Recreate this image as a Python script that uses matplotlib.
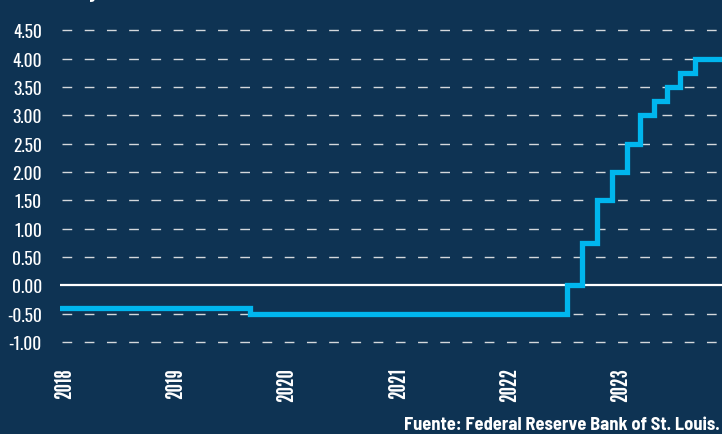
import matplotlib
matplotlib.use("Agg")
import matplotlib.pyplot as plt
import matplotlib.dates as mdates
import matplotlib.transforms as mtransforms
import numpy as np

# ---- data (ECB deposit facility rate, %) ----
change_dates = ["2018-01-01", "2019-09-18", "2022-07-27", "2022-09-14", "2022-11-02",
                "2022-12-21", "2023-02-08", "2023-03-22", "2023-05-10", "2023-06-21",
                "2023-08-02", "2023-09-20", "2023-12-31"]
rates = [-0.40, -0.50, 0.00, 0.75, 1.50, 2.00, 2.50, 3.00, 3.25, 3.50, 3.75, 4.00, 4.00]
y_ticks = [-1.0, -0.5, 0.0, 0.5, 1.0, 1.5, 2.0, 2.5, 3.0, 3.5, 4.0, 4.5]
x_years = [2018, 2019, 2020, 2021, 2022, 2023]
title = "(Porcentaje)"
source = "Fuente: Federal Reserve Bank of St. Louis."

BG = "#0e3353"
LINE = "#00b6ee"
TICK_FONT = ["Oswald", "DejaVu Sans"]
XTICK_FONT = ["League Gothic", "Oswald", "DejaVu Sans"]
TEXT_FONT = ["Barlow Semi Condensed", "DejaVu Sans"]
plt.rcParams["font.family"] = TEXT_FONT

W, H = 722, 435
fig = plt.figure(figsize=(W / 100, H / 100), dpi=100, facecolor=BG)
ax = fig.add_axes([60 / W, (H - 360) / H, (W - 60) / W, 360 / H])
ax.set_facecolor(BG)
for s in ax.spines.values():
    s.set_visible(False)

dates = np.array(change_dates, dtype="datetime64[D]")
ax.set_xlim(np.datetime64("2018-01-01"), np.datetime64("2023-12-18"))
ax.set_ylim(-1.30, 5.05)

for v in y_ticks:
    if v == 0:
        ax.axhline(0, color="white", lw=1.6, zorder=1)
    else:
        ax.axhline(v, color="#d4d8dc", lw=1.0, dashes=(7, 9), zorder=1,
                   xmin=2 / 662)

ax.step(dates, rates, where="post", color=LINE, lw=3.8, zorder=3,
        solid_capstyle="round", solid_joinstyle="miter")

ax.set_yticks(y_ticks)
ax.set_yticklabels([f"{v:.2f}" for v in y_ticks])
ax.tick_params(axis="y", length=0, pad=13, labelcolor="white", labelsize=12.5)
for t in ax.get_yticklabels():
    t.set_family(TICK_FONT)
    t.set_fontweight("bold")

xt = [np.datetime64(f"{y}-01-01") for y in x_years]
ax.set_xticks(mdates.date2num(xt))
ax.set_xticklabels([str(y) for y in x_years], rotation=90)
ax.tick_params(axis="x", length=0, pad=6, labelcolor="white", labelsize=17)
offset = mtransforms.ScaledTranslation(5 / 100, 0, fig.dpi_scale_trans)
for t in ax.get_xticklabels():
    t.set_family(XTICK_FONT)
    t.set_transform(t.get_transform() + offset)

fig.text(13 / W, 1 + 2.5 / H, title, color="white", fontsize=14, fontweight="bold",
         ha="left", va="baseline")
fig.text(720 / W, 1 - 430 / H, source, color="white", fontsize=13.3,
         fontweight="bold", ha="right", va="baseline")

fig.savefig("out.png", dpi=100, facecolor=BG)
